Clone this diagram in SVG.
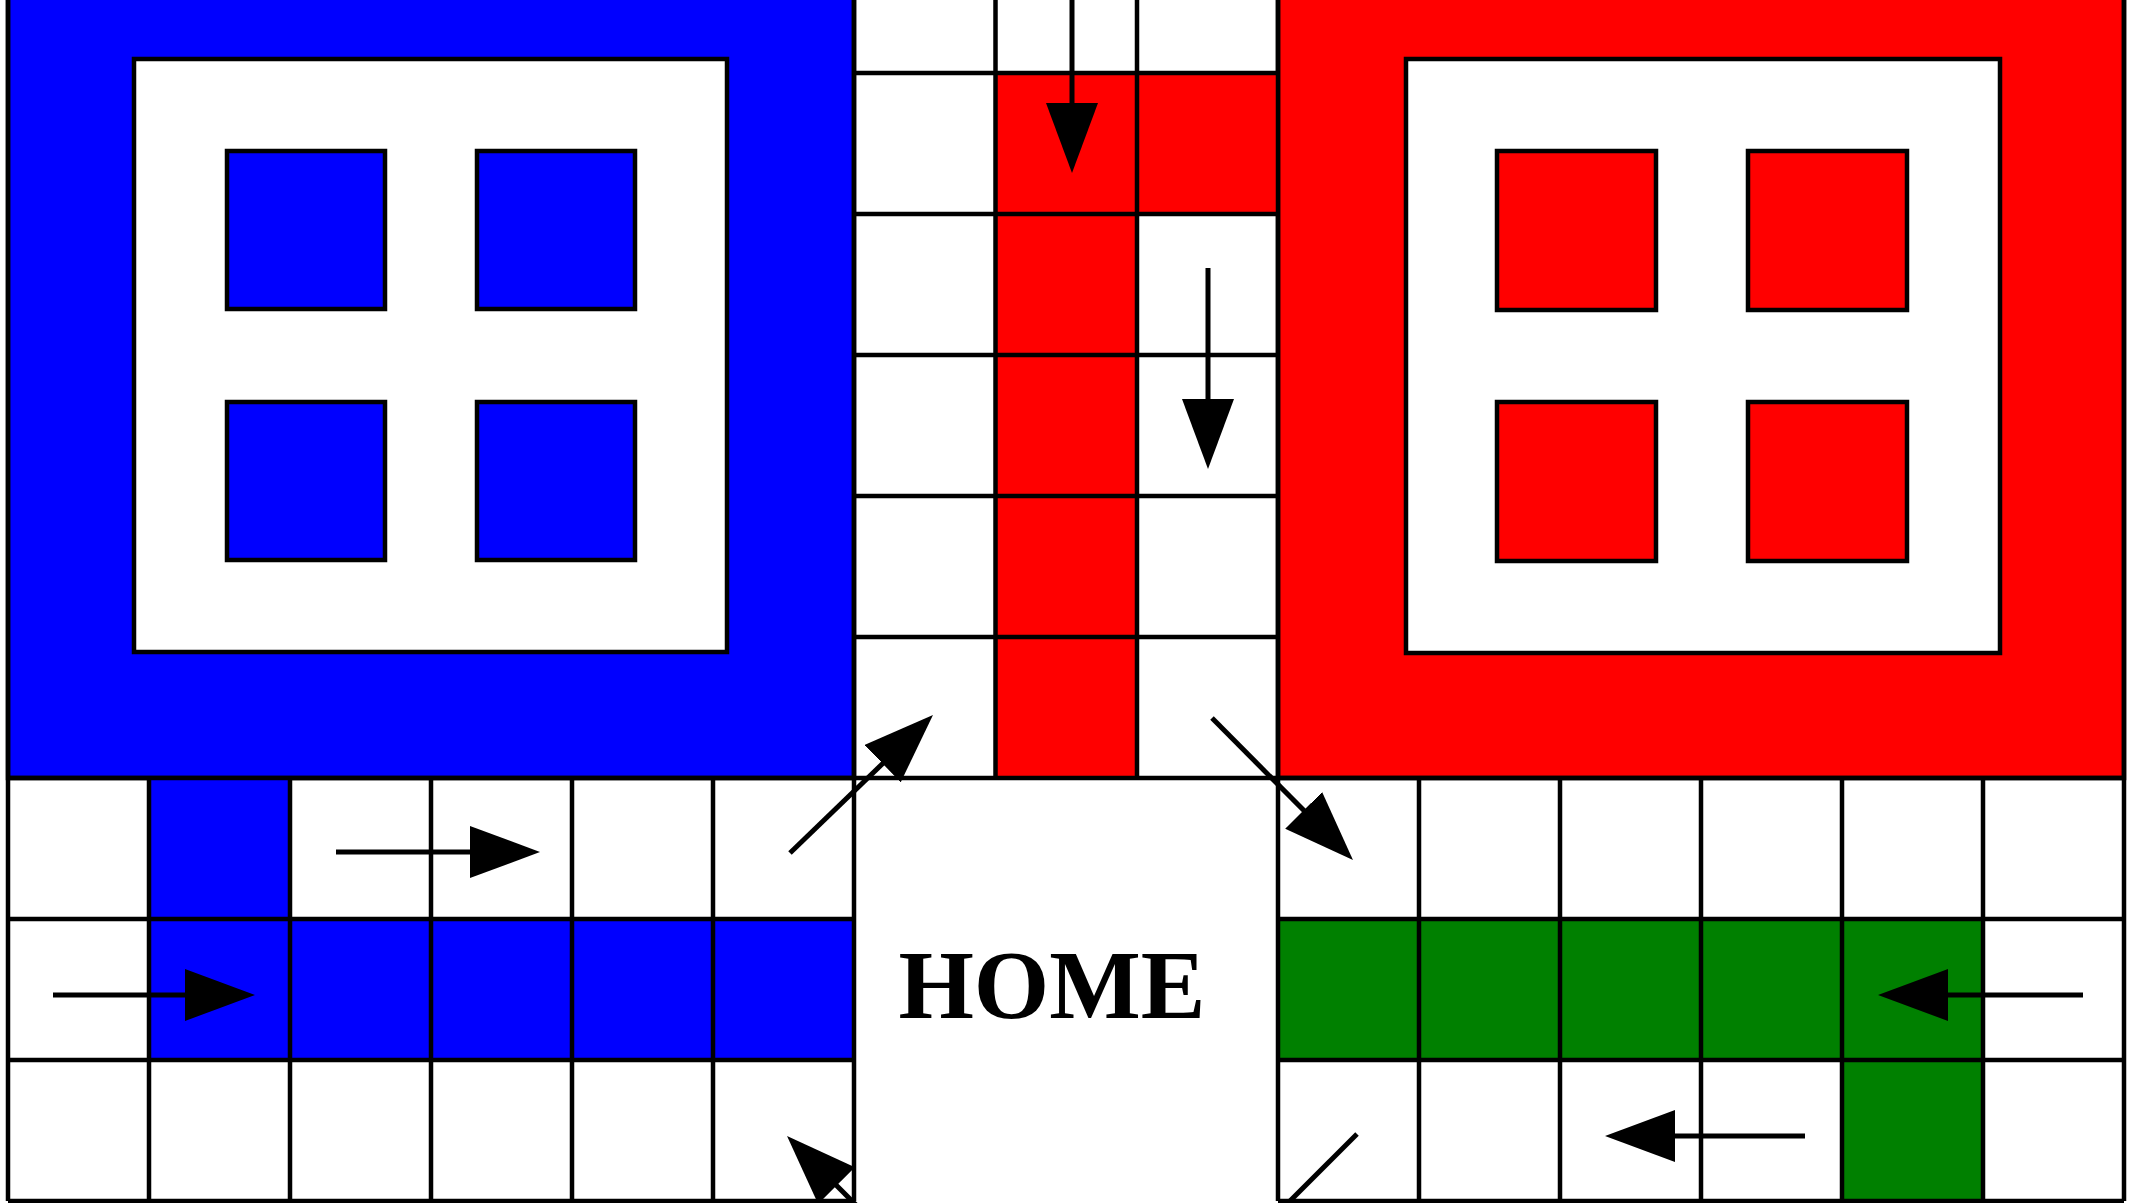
<svg xmlns="http://www.w3.org/2000/svg" width="2140" height="1203" viewBox="0 0 2140 1203">
<style>
.ln{stroke:#000;stroke-width:4.5;fill:none}
.yd{stroke:#000;stroke-width:4.5}
.in{fill:#fff;stroke:#000;stroke-width:4.5}
.b{fill:#0000ff}
.r{fill:#ff0000}
.g{fill:#008000}
.ar{stroke:#000;stroke-width:5;fill:none;marker-end:url(#ah)}
.lbl{font-family:"Liberation Serif","Times New Roman",serif;font-weight:bold;font-size:97px;fill:#000}
</style>
<defs>
<marker id="ah" viewBox="0 0 70 52" refX="30" refY="26" markerWidth="70" markerHeight="52" markerUnits="userSpaceOnUse" orient="auto">
<path d="M0,0 L70,26 L0,52 Z" fill="#000"/>
</marker>
</defs>
<rect x="0" y="0" width="2140" height="1203" fill="#fff"/>
<g id="blue-yard">
<rect class="yd b" x="8" y="-70" width="846" height="848"/>
<rect class="in" x="134" y="59" width="593" height="593"/>
<rect class="yd b" x="227" y="151" width="158" height="158"/>
<rect class="yd b" x="477" y="151" width="158" height="158"/>
<rect class="yd b" x="227" y="402" width="158" height="158"/>
<rect class="yd b" x="477" y="402" width="158" height="158"/>
</g>
<g id="red-yard">
<rect class="yd r" x="1278" y="-70" width="846" height="848"/>
<rect class="in" x="1406" y="59" width="594" height="594"/>
<rect class="yd r" x="1497" y="151" width="159" height="159"/>
<rect class="yd r" x="1748" y="151" width="159" height="159"/>
<rect class="yd r" x="1497" y="402" width="159" height="159"/>
<rect class="yd r" x="1748" y="402" width="159" height="159"/>
</g>
<g id="track">
<rect class="b" x="149" y="778" width="141" height="141"/>
<rect class="b" x="149" y="919" width="705" height="141"/>
<rect class="g" x="1278" y="919" width="705" height="141"/>
<rect class="g" x="1842" y="1060" width="141" height="141"/>
<rect class="r" x="995.5" y="73" width="141.5" height="705"/>
<rect class="r" x="1137" y="73" width="141" height="141"/>
<path class="ln" d="M854,-70V1201M1278,-70V1201M995.5,-70V778M1137,-70V778
M854,73H1278M854,214H1278M854,355H1278M854,496H1278M854,637H1278
M8,778H2124M8,919H854M8,1060H854M8,1201H854M1278,919H2124M1278,1060H2124M1278,1201H2124
M8,-70V1201M149,778V1201M290,778V1201M431,778V1201M572,778V1201M713,778V1201
M1419,778V1201M1560,778V1201M1701,778V1201M1842,778V1201M1983,778V1201M2124,-70V1201"/>
</g>
<g id="home">
<text class="lbl" x="1052" y="1018" text-anchor="middle">HOME</text>
</g>
<g id="connectors">
<line class="ar" x1="1072" y1="-10" x2="1072" y2="133"/>
<line class="ar" x1="1208" y1="268" x2="1208" y2="429"/>
<line class="ar" x1="336" y1="852" x2="500" y2="852"/>
<line class="ar" x1="53" y1="995" x2="215" y2="995"/>
<line class="ar" x1="2083" y1="995" x2="1918" y2="995"/>
<line class="ar" x1="1805" y1="1136" x2="1645" y2="1136"/>
<line class="ar" x1="790" y1="853" x2="904.2" y2="742.8"/>
<line class="ar" x1="1212" y1="718" x2="1324.8" y2="831.6"/>
<line class="ar" x1="932" y1="1281" x2="815.3" y2="1164.3"/>
<line class="ln" style="stroke-width:5" x1="1357" y1="1134" x2="1207" y2="1284"/>
</g>
</svg>
